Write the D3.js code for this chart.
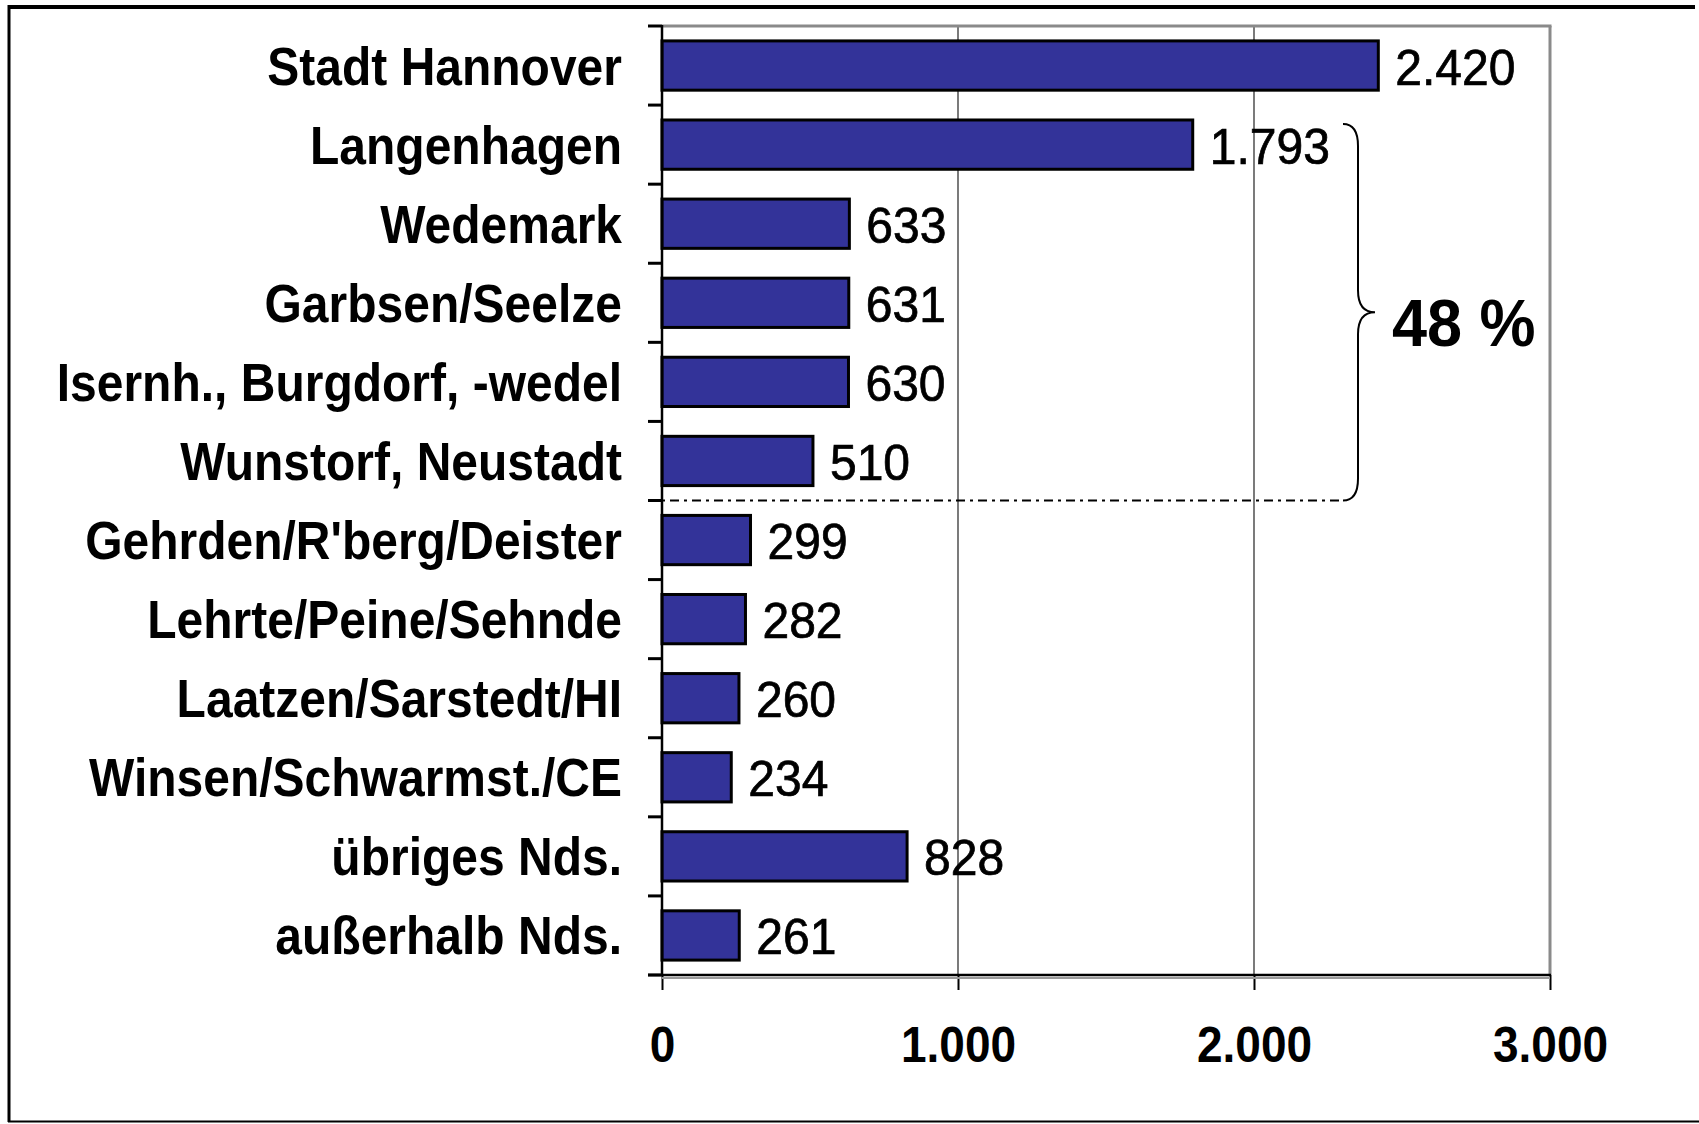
<!DOCTYPE html>
<html>
<head>
<meta charset="utf-8">
<script src="https://cdn.jsdelivr.net/npm/d3@7"></script>
<style>
  html, body { margin: 0; padding: 0; background: #fff; }
  svg { display: block; }
  text { font-family: "Liberation Sans", Arial, sans-serif; fill: #000; }
</style>
</head>
<body>
<svg id="chart" width="1699" height="1124"></svg>
<script>
const categories = [
  "Stadt Hannover", "Langenhagen", "Wedemark", "Garbsen/Seelze",
  "Isernh., Burgdorf, -wedel", "Wunstorf, Neustadt", "Gehrden/R'berg/Deister",
  "Lehrte/Peine/Sehnde", "Laatzen/Sarstedt/HI", "Winsen/Schwarmst./CE",
  "übriges Nds.", "außerhalb Nds."
];
const values = [2420, 1793, 633, 631, 630, 510, 299, 282, 260, 234, 828, 261];
const valueLabels = ["2.420", "1.793", "633", "631", "630", "510", "299", "282", "260", "234", "828", "261"];
const tickValues = [0, 1000, 2000, 3000];
const tickLabels = ["0", "1.000", "2.000", "3.000"];
const braceFrom = 1, braceTo = 5;
const braceLabel = "48 %";

const svg = d3.select("#chart");
const plot = { left: 662, right: 1550, top: 26, bottom: 975 };

// outer frame
svg.append("line").attr("x1", 9).attr("x2", 1695).attr("y1", 7).attr("y2", 7)
  .attr("stroke", "#000").attr("stroke-width", 4);
svg.append("line").attr("x1", 9).attr("x2", 9).attr("y1", 5).attr("y2", 1122)
  .attr("stroke", "#000").attr("stroke-width", 3);
svg.append("line").attr("x1", 8).attr("x2", 1699).attr("y1", 1121.5).attr("y2", 1121.5)
  .attr("stroke", "#000").attr("stroke-width", 2);

const x = d3.scaleLinear().domain([0, 3000]).range([plot.left, plot.right]);
const p = 0.377;
const y = d3.scaleBand().domain(categories).range([plot.top, plot.bottom])
  .paddingInner(p).paddingOuter(p / 2);
const step = y.step();

// gridlines
svg.append("g").selectAll("line").data(tickValues.filter(d => d > 0 && d < 3000))
  .join("line")
  .attr("x1", d => x(d)).attr("x2", d => x(d))
  .attr("y1", plot.top).attr("y2", plot.bottom)
  .attr("stroke", "#222").attr("stroke-width", 1.2);

// top and right frame of plot (gray)
svg.append("line").attr("x1", plot.left).attr("x2", plot.right + 1.5)
  .attr("y1", plot.top).attr("y2", plot.top)
  .attr("stroke", "#8a8a8a").attr("stroke-width", 3);
svg.append("line").attr("x1", plot.right).attr("x2", plot.right)
  .attr("y1", plot.top).attr("y2", plot.bottom)
  .attr("stroke", "#8a8a8a").attr("stroke-width", 3);

// dash-dot separator
const sepY = plot.top + (braceTo + 1) * step;
svg.append("line").attr("x1", plot.left - 14).attr("x2", 1343)
  .attr("y1", sepY).attr("y2", sepY)
  .attr("stroke", "#000").attr("stroke-width", 2.2)
  .attr("stroke-dasharray", "9,5,3,5");

// bars
svg.append("g").selectAll("rect").data(values).join("rect")
  .attr("x", x(0))
  .attr("y", (d, i) => y(categories[i]))
  .attr("width", d => x(d) - x(0))
  .attr("height", y.bandwidth())
  .attr("fill", "#333399")
  .attr("stroke", "#000").attr("stroke-width", 3);

// value labels
svg.append("g").selectAll("text").data(values).join("text")
  .attr("transform", (d, i) => `translate(${x(d) + 17},${y(categories[i]) + y.bandwidth() / 2 + 19}) scale(1,1.05)`)
  .attr("font-size", 48)
  .attr("stroke", "#000").attr("stroke-width", 0.7)
  .text((d, i) => valueLabels[i]);

// y axis line and ticks (band boundaries)
svg.append("line").attr("x1", plot.left).attr("x2", plot.left)
  .attr("y1", plot.top - 1).attr("y2", plot.bottom + 1)
  .attr("stroke", "#000").attr("stroke-width", 2.5);
svg.append("g").selectAll("line").data(d3.range(categories.length + 1)).join("line")
  .attr("x1", plot.left - 14).attr("x2", plot.left)
  .attr("y1", i => plot.top + i * step).attr("y2", i => plot.top + i * step)
  .attr("stroke", "#000").attr("stroke-width", 3);

// category labels
svg.append("g").selectAll("text").data(categories).join("text")
  .attr("transform", d => `translate(622,${y(d) + y.bandwidth() / 2 + 19}) scale(1,1.12)`)
  .attr("text-anchor", "end")
  .attr("font-size", 48)
  .attr("font-weight", "bold")
  .text(d => d);

// x axis
const xAxis = d3.axisBottom(x).tickValues(tickValues).tickSize(15)
  .tickFormat((d, i) => tickLabels[i]);
const gx = svg.append("g").attr("transform", `translate(0,${plot.bottom})`).call(xAxis);
gx.select(".domain").attr("stroke", "#000").attr("stroke-width", 2.5)
  .attr("d", `M${plot.left - 14},0H${plot.right + 1}`);
gx.selectAll(".tick line").attr("stroke", "#000").attr("stroke-width", 2);
gx.selectAll(".tick text")
  .attr("y", null).attr("dy", null)
  .attr("transform", "translate(0,87) scale(1,1.07)")
  .attr("font-family", "'Liberation Sans', Arial, sans-serif")
  .attr("font-size", 46).attr("font-weight", "bold").attr("fill", "#000");
svg.append("line").attr("x1", plot.left).attr("x2", plot.right)
  .attr("y1", plot.bottom + 3).attr("y2", plot.bottom + 3)
  .attr("stroke", "#9a9a9a").attr("stroke-width", 2);

// brace
const bTop = y(categories[braceFrom]) + 4;
const bBot = sepY;
const bMid = (bTop + bBot) / 2;
const bx0 = 1343, bx1 = 1358, bx2 = 1375;
svg.append("path")
  .attr("d", `M${bx0},${bTop} Q${bx1},${bTop} ${bx1},${bTop + 22} L${bx1},${bMid - 22} Q${bx1},${bMid} ${bx2},${bMid} Q${bx1},${bMid} ${bx1},${bMid + 22} L${bx1},${bBot - 22} Q${bx1},${bBot} ${bx0},${bBot}`)
  .attr("fill", "none").attr("stroke", "#000").attr("stroke-width", 2);

svg.append("text")
  .attr("transform", `translate(1392,${bMid + 34}) scale(1,1.07)`)
  .attr("font-size", 63).attr("font-weight", "bold")
  .text(braceLabel);
</script>
</body>
</html>
